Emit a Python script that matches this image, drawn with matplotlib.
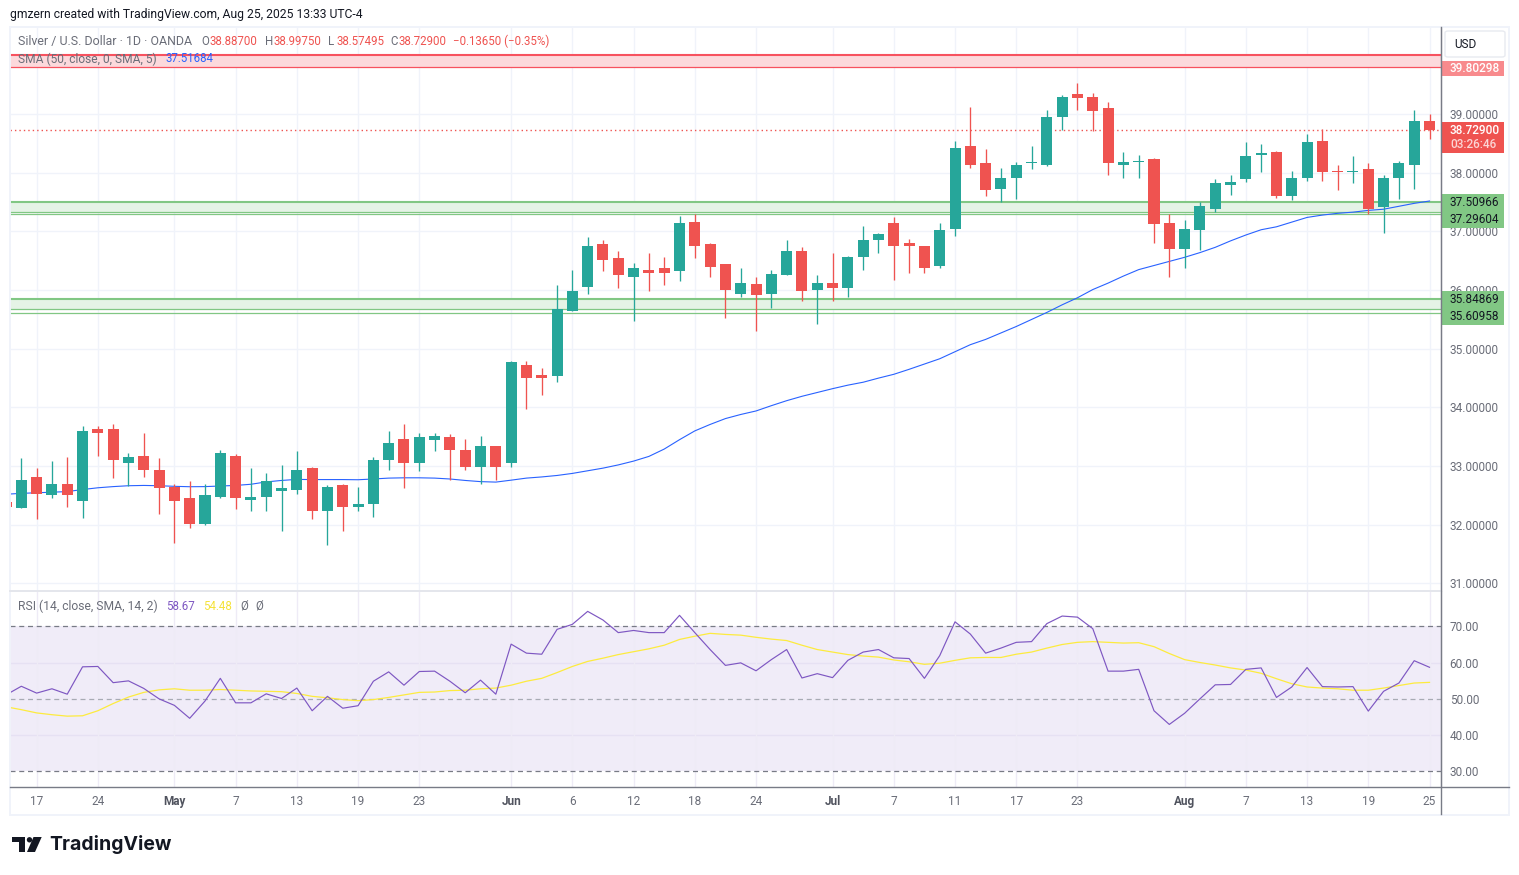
import numpy as np
import matplotlib
matplotlib.use("Agg")
import matplotlib.pyplot as plt
from matplotlib.patches import Rectangle, FancyBboxPatch, Polygon, Ellipse
from matplotlib.lines import Line2D

plt.rcParams["font.family"] = ["Roboto", "DejaVu Sans"]

# daily candles
opens = [32.38, 32.28, 32.82, 32.50, 32.69, 32.40, 33.63, 33.64, 33.06, 33.18, 32.93, 32.65, 32.45, 32.02, 32.48,
         33.18, 32.43, 32.47, 32.57, 32.60, 32.96, 32.24, 32.67, 32.31, 32.35, 33.11, 33.47, 33.06, 33.44, 33.49,
         33.28, 32.98, 33.35, 33.05, 34.73, 34.56, 34.53, 35.65, 36.05, 36.78, 36.54, 36.23, 36.35, 36.37, 36.32,
         37.17, 36.78, 36.44, 35.93, 36.10, 35.93, 36.25, 36.66, 36.01, 36.13, 36.03, 36.56, 36.85, 37.15, 36.81,
         36.76, 36.41, 37.05, 38.45, 38.16, 37.72, 37.92, 38.16, 38.13, 38.95, 39.34, 39.30, 39.10, 38.13, 38.18,
         38.23, 37.15, 36.71, 37.02, 37.39, 37.80, 37.89, 38.30, 38.35, 37.60, 37.92, 38.55, 38.03, 38.01, 38.06,
         37.41, 37.91, 38.14, 38.887]
highs = [32.42, 33.13, 32.96, 33.08, 33.16, 33.69, 33.69, 33.71, 33.22, 33.56, 33.13, 32.69, 32.74, 32.69, 33.27,
         33.20, 32.96, 32.89, 33.01, 33.25, 32.99, 32.67, 32.70, 32.64, 33.15, 33.59, 33.71, 33.56, 33.57, 33.54,
         33.46, 33.51, 33.35, 34.80, 34.79, 34.67, 36.08, 36.35, 36.90, 36.85, 36.66, 36.46, 36.64, 36.56, 37.27,
         37.30, 36.80, 36.44, 36.37, 36.22, 36.34, 36.85, 36.73, 36.25, 36.63, 36.59, 37.09, 36.97, 37.24, 36.88,
         36.76, 37.14, 38.54, 39.13, 38.40, 38.09, 38.18, 38.45, 39.07, 39.32, 39.54, 39.37, 39.20, 38.35, 38.30,
         38.26, 37.29, 37.19, 37.50, 37.89, 37.96, 38.52, 38.49, 38.37, 38.04, 38.66, 38.74, 38.13, 38.28, 38.16,
         37.96, 38.21, 39.07, 38.9975]
lows = [32.25, 32.28, 32.09, 32.45, 32.30, 32.11, 33.18, 32.79, 32.66, 32.81, 32.19, 31.68, 31.95, 32.00, 32.45,
        32.26, 32.23, 32.24, 31.90, 32.53, 32.09, 31.66, 31.89, 32.24, 32.14, 32.94, 32.62, 32.91, 33.25, 32.77,
        32.93, 32.70, 32.77, 32.98, 33.97, 34.21, 34.44, 35.65, 35.93, 36.32, 36.03, 35.47, 35.98, 36.08, 36.15,
        36.54, 36.22, 35.52, 35.89, 35.30, 35.69, 36.25, 35.81, 35.43, 35.81, 35.88, 36.35, 36.64, 36.17, 36.30,
        36.29, 36.37, 36.92, 38.09, 37.60, 37.51, 37.55, 38.06, 38.11, 38.73, 39.07, 38.71, 37.96, 37.92, 37.92,
        36.80, 36.22, 36.37, 36.68, 37.33, 37.63, 37.84, 38.01, 37.57, 37.53, 37.86, 37.86, 37.70, 37.82, 37.29,
        36.97, 37.55, 37.72, 38.57495]
closes = [32.31, 32.77, 32.52, 32.69, 32.50, 33.59, 33.57, 33.10, 33.16, 32.94, 32.62, 32.41, 32.01, 32.50, 33.23,
          32.45, 32.48, 32.74, 32.62, 32.93, 32.23, 32.65, 32.30, 32.36, 33.10, 33.40, 33.05, 33.49, 33.51, 33.27,
          32.98, 33.34, 32.98, 34.77, 34.51, 34.50, 35.67, 35.98, 36.76, 36.52, 36.25, 36.37, 36.30, 36.30, 37.14,
          36.75, 36.39, 36.00, 36.12, 35.91, 36.27, 36.66, 35.98, 36.13, 36.03, 36.56, 36.85, 36.95, 36.76, 36.75,
          36.37, 37.03, 38.42, 38.13, 37.70, 37.92, 38.14, 38.18, 38.95, 39.30, 39.27, 39.05, 38.16, 38.18, 38.21,
          37.12, 36.71, 37.04, 37.43, 37.82, 37.84, 38.28, 38.33, 37.60, 37.92, 38.52, 38.01, 38.01, 38.03, 37.38,
          37.91, 38.16, 38.88, 38.729]
sma50 = [32.52, 32.535, 32.545, 32.555, 32.565, 32.60, 32.63, 32.65, 32.665, 32.67, 32.665, 32.655, 32.648, 32.65,
         32.66, 32.67, 32.69, 32.73, 32.755, 32.773, 32.77, 32.77, 32.77, 32.767, 32.78, 32.795, 32.80, 32.80, 32.795,
         32.78, 32.755, 32.735, 32.727, 32.76, 32.795, 32.815, 32.84, 32.875, 32.92, 32.965, 33.02, 33.085, 33.165,
         33.29, 33.45, 33.60, 33.71, 33.81, 33.88, 33.94, 34.03, 34.115, 34.19, 34.255, 34.32, 34.38, 34.43, 34.50,
         34.565, 34.65, 34.74, 34.83, 34.95, 35.07, 35.16, 35.27, 35.38, 35.50, 35.62, 35.75, 35.87, 36.01, 36.12,
         36.24, 36.35, 36.42, 36.49, 36.56, 36.64, 36.73, 36.84, 36.94, 37.03, 37.08, 37.16, 37.24, 37.28, 37.31,
         37.33, 37.36, 37.38, 37.43, 37.48, 37.52]
rsi = [51.0, 53.4, 51.5, 52.7, 51.2, 58.8, 58.9, 54.4, 54.9, 52.8, 49.9, 48.1, 44.5, 49.3, 55.6, 48.8, 48.8, 51.3,
       50.0, 52.9, 46.6, 50.6, 47.3, 48.0, 54.8, 57.4, 53.7, 57.5, 57.6, 54.8, 51.6, 55.1, 51.2, 65.1, 62.6, 62.3,
       69.2, 70.6, 74.2, 71.8, 68.3, 68.9, 68.3, 68.3, 73.1, 68.3, 63.6, 59.2, 59.9, 57.7, 60.8, 63.6, 55.7, 56.9,
       55.8, 60.6, 62.9, 63.6, 61.3, 61.1, 55.6, 61.9, 71.3, 67.9, 62.6, 64.0, 65.6, 65.8, 70.8, 72.9, 72.6, 69.4,
       57.6, 57.6, 58.1, 46.6, 42.8, 45.9, 49.9, 53.8, 53.9, 58.1, 58.5, 50.3, 53.2, 58.6, 53.3, 53.2, 53.3, 46.5,
       52.0, 54.3, 60.5, 58.67]
rsi_ma = [47.7, 46.9, 46.0, 45.5, 45.1, 45.2, 46.6, 48.6, 50.4, 51.7, 52.4, 52.7, 52.3, 52.3, 52.5, 52.3, 52.1, 52.0,
          51.9, 51.4, 50.6, 50.2, 49.7, 49.4, 49.7, 50.3, 51.0, 51.7, 51.8, 52.2, 52.3, 52.7, 52.9, 53.7, 54.8, 55.6,
          57.2, 58.9, 60.3, 61.2, 62.2, 63.0, 63.8, 64.8, 66.4, 67.3, 68.1, 67.8, 67.6, 67.0, 66.5, 66.1, 64.8, 63.6,
          62.9, 62.2, 61.8, 61.5, 60.7, 60.2, 59.5, 59.8, 60.6, 61.3, 61.4, 61.4, 62.3, 62.9, 64.0, 65.0, 65.6, 65.8,
          65.6, 65.4, 65.5, 64.4, 62.5, 60.8, 60.0, 59.3, 58.5, 57.9, 57.0, 55.5, 54.1, 53.2, 52.9, 52.7, 52.3, 52.3,
          52.9, 53.6, 54.3, 54.48]

date_idx = [2, 6, 11, 15, 19, 23, 27, 33, 37, 41, 45, 49, 54, 58, 62, 66, 70, 77, 81, 85, 89, 93]
date_labels = ["17", "24", "May", "7", "13", "19", "23", "Jun", "6", "12", "18", "24", "Jul", "7", "11", "17", "23",
               "Aug", "7", "13", "19", "25"]
price_ticks = [31, 32, 33, 34, 35, 36, 37, 38, 39]
rsi_ticks = [30, 40, 50, 60, 70]

red_zone = (39.80298, 40.01)
green_zones = [(37.29604, 37.335, 37.50966), (35.60958, 35.67, 35.84869)]
last_close = 38.729

W, H = 1519, 875
UP, DOWN = "#26a69a", "#ef5350"
GRID = "#f0f3fa"
TXT = "#6a6d78"
AXIS_SIZE = 8.5


def rect(x0, y0, x1, y1):
    return [x0 / W, 1 - y1 / H, (x1 - x0) / W, (y1 - y0) / H]


def put(x, y, s, color=TXT, size=AXIS_SIZE, **kw):
    fig.text(x / W, 1 - y / H, s, color=color, fontsize=size, va="center", **kw)


fig = plt.figure(figsize=(W / 100, H / 100), dpi=100, facecolor="white")
ax = fig.add_axes(rect(10, 27, 1441, 591))
ax2 = fig.add_axes(rect(10, 591, 1441, 787), sharex=ax)

x = np.arange(len(closes))
ax.set_xlim(0.26, 93.75)
ax.set_ylim(30.87, 40.487)
ax2.set_ylim(25.42, 79.86)

for a in (ax, ax2):
    a.set_axisbelow(True)
    a.set_xticks(date_idx)
    a.yaxis.tick_right()
    a.tick_params(length=0, labelcolor=TXT, labelsize=AXIS_SIZE)
    for s in ("top", "left", "bottom"):
        a.spines[s].set_visible(False)
    a.spines["right"].set_color("#787b86")

ax.grid(color=GRID, lw=1.0)
ax.set_yticks(price_ticks)
ax.set_yticklabels([f"{t:.5f}" for t in price_ticks], va="center_baseline")
ax.tick_params(axis="y", pad=6.2)
ax.tick_params(axis="x", labelbottom=False)

# zones sit under the candles
ax.axhspan(red_zone[0], red_zone[1], color="#fcd9dc", lw=0, zorder=1)
ax.axhline(red_zone[1], color="#f7525f", lw=1.5, zorder=1.5)
ax.axhline(red_zone[0], color="#f7525f", lw=0.9, zorder=1.5)
for low, mid, top in green_zones:
    ax.axhspan(mid, top, color="#e5f3e6", lw=0, zorder=1)
    ax.axhline(top, color="#81c784", lw=1.5, zorder=1.5)
    ax.axhline(mid, color="#81c784", lw=0.9, zorder=1.5)
    ax.axhline(low, color="#81c784", lw=0.9, zorder=1.5)

ax.plot(x, sma50, color="#2962ff", lw=0.8, zorder=2)
ax.axhline(last_close, color=DOWN, lw=1.0, ls=(0, (1, 2.2)), zorder=2)

colors = [UP if c >= o else DOWN for o, c in zip(opens, closes)]
bottoms = np.minimum(opens, closes)
tops = np.maximum(opens, closes)
ax.vlines(x, lows, highs, colors=colors, lw=0.95, zorder=3)
ax.bar(x, tops - bottoms, bottom=bottoms, width=0.72, color=colors, lw=0, zorder=4)

# rsi pane
ax2.grid(axis="x", color="#eeebf6", lw=1.0)
ax2.axhspan(30, 70, color="#f0ecf8", lw=0, zorder=0)
ax2.axhline(60, color="#e6e1f3", lw=1.0, zorder=0.5)
ax2.axhline(40, color="#e6e1f3", lw=1.0, zorder=0.5)
ax2.axhline(70, color="#787b86", lw=0.9, ls=(0, (4, 3)), zorder=1)
ax2.axhline(30, color="#787b86", lw=0.9, ls=(0, (4, 3)), zorder=1)
ax2.axhline(50, color="#a8abb4", lw=0.9, ls=(0, (4, 3)), zorder=1)
ax2.plot(x, rsi_ma, color="#fdeb3e", lw=0.9, zorder=2)
ax2.plot(x, rsi, color="#7e57c2", lw=0.85, zorder=3)
ax2.set_yticks(rsi_ticks)
ax2.set_yticklabels([f"{t:.2f}" for t in rsi_ticks], va="center_baseline")
ax2.tick_params(axis="y", pad=6.2)
ax2.set_xticklabels(date_labels)
ax2.tick_params(axis="x", pad=5.8)
for lab, name in zip(ax2.get_xticklabels(), date_labels):
    if name in ("May", "Jun", "Jul", "Aug"):
        lab.set_fontweight("bold")
        lab.set_color("#50535e")

# frame and pane separators
fig.add_artist(Rectangle((10 / W, 1 - 815 / H), 1499 / W, 788 / H, transform=fig.transFigure,
                         fill=False, ec=GRID, lw=1.4))
fig.add_artist(Line2D([10 / W, 1441 / W], [1 - 591 / H] * 2, color="#e4e6ec", lw=1.4))
fig.add_artist(Line2D([10 / W, 1509 / W], [1 - 787 / H] * 2, color="#787b86", lw=1.0))
fig.add_artist(Line2D([1441 / W] * 2, [1 - 27 / H, 1 - 814 / H], color="#787b86", lw=1.0))

# price tags on the right scale
tags = [(1441.5, 61, 1504, 76, "#f88a8d"), (1441.5, 122, 1504, 153, DOWN),
        (1441.5, 194, 1504, 228, "#81c784"), (1441.5, 291, 1504, 325, "#81c784")]
for x0, y0, x1, y1, col in tags:
    fig.add_artist(Rectangle((x0 / W, 1 - y1 / H), (x1 - x0) / W, (y1 - y0) / H, transform=fig.transFigure,
                             fc=col, ec="none"))
put(1450, 68, "39.80298", color="white", fontweight="medium")
put(1450, 130.5, "38.72900", color="white", fontweight="medium")
put(1450, 144.5, "03:26:46", color="#fbd5d5", fontweight="medium")
put(1450, 202.5, "37.50966", color="#131722")
put(1450, 219.5, "37.29604", color="#131722")
put(1450, 299.5, "35.84869", color="#131722")
put(1450, 316, "35.60958", color="#131722")

fig.add_artist(FancyBboxPatch((1445 / W, 1 - 57 / H), 60 / W, 26 / H, transform=fig.transFigure,
                              boxstyle="round,pad=0,rounding_size=0.002", fc="white", ec="#e8eaf0", lw=1.0))
put(1454, 44, "USD", color="#131722")

# header and legends
put(10, 14.5, "gmzern created with TradingView.com, Aug 25, 2025 13:33 UTC-4", color="#131722", size=8.7)
put(18, 41.5, "Silver / U.S. Dollar · 1D · OANDA", size=8.95)
for xp, lab, val in [(201, "O", "38.88700"), (265, "H", "38.99750"), (328, "L", "38.57495"), (390, "C", "38.72900")]:
    put(xp, 41.5, lab, size=8.3)
    put(xp + 8.5, 41.5, val, color=DOWN, size=8.3)
put(453, 41.5, "−0.13650 (−0.35%)", color=DOWN, size=8.3)
put(18, 59, "SMA (50, close, 0, SMA, 5)", size=8.65)
put(165, 59, "37.51684", color="#2962ff", size=8.3)
put(18, 606.5, "RSI (14, close, SMA, 14, 2)", size=8.7)
put(166, 606.5, "58.67", color="#7e57c2", size=8.3)
put(203, 606.5, "54.48", color="#f5e23a", size=8.3)
put(240, 606.5, "Ø", size=8.3)
put(255, 606.5, "Ø", size=8.3)

# logo
put(49.5, 845, "TradingView", color="#131722", size=14.0, fontfamily="Inter", fontweight="bold")
logo = [[(12, 837), (25, 837), (25, 852), (19, 852), (19, 842), (12, 842)],
        [(33.5, 837), (41.7, 837), (35, 852), (27, 852)]]
for pts in logo:
    xy = [(px / W, 1 - py / H) for px, py in pts]
    fig.add_artist(Polygon(xy, transform=fig.transFigure, fc="#131722", ec="none"))
fig.add_artist(Ellipse((29.5 / W, 1 - 839.8 / H), 5.4 / W, 5.4 / H, transform=fig.transFigure, fc="#131722", ec="none"))

fig.savefig("out.png", dpi=100)
